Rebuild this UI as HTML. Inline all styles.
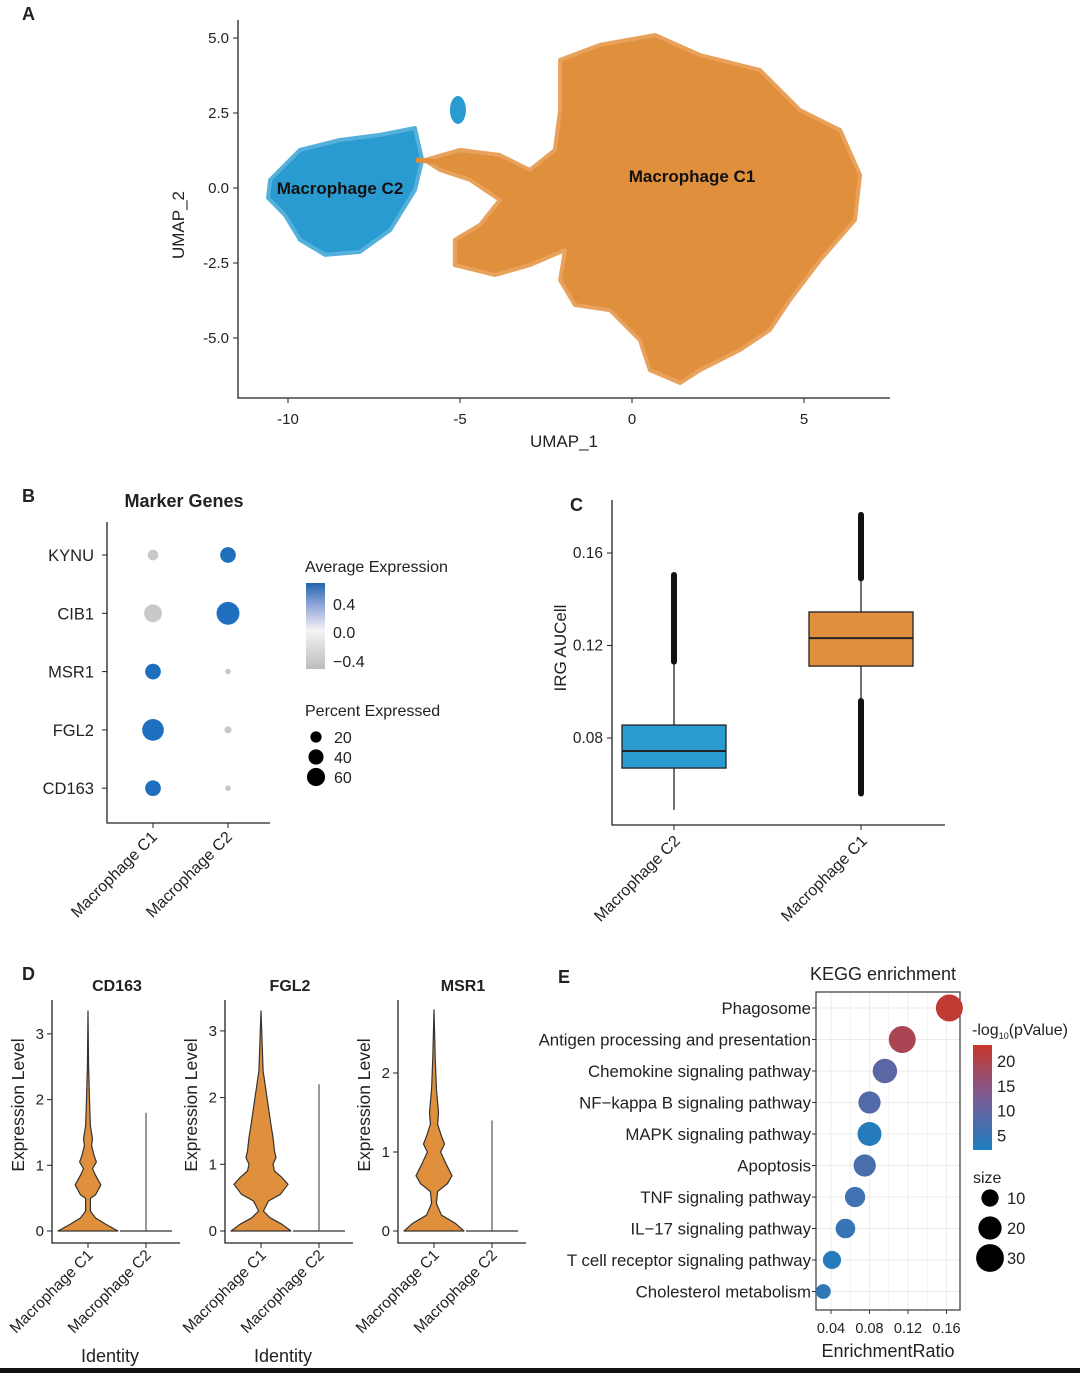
<!DOCTYPE html>
<html><head><meta charset="utf-8">
<style>
html,body{margin:0;padding:0;background:#fff;}
svg{display:block;font-family:"Liberation Sans",Arial,sans-serif;}
</style></head>
<body>
<svg id="fig" width="1080" height="1373" viewBox="0 0 1080 1373" xmlns="http://www.w3.org/2000/svg">
<defs>
<linearGradient id="avgGrad" x1="0" y1="0" x2="0" y2="1">
<stop offset="0" stop-color="#2166ac"/><stop offset="0.25" stop-color="#8fa3d8"/><stop offset="0.55" stop-color="#f4f4f4"/><stop offset="1" stop-color="#bdbdbd"/>
</linearGradient>
<linearGradient id="pvGrad" x1="0" y1="0" x2="0" y2="1">
<stop offset="0" stop-color="#c8372b"/><stop offset="0.5" stop-color="#7a5c96"/><stop offset="1" stop-color="#1c7ec0"/>
</linearGradient>
</defs>
<rect x="0" y="0" width="1080" height="1373" fill="#fff"/>
<rect x="0" y="1368" width="1080" height="5" fill="#111"/>
<g id="A"></g>
<g id="B"></g>
<g id="C"></g>
<g id="D"></g>
<g id="E"></g>
</svg>
<script>
// ---- Panel A data (UMAP cluster outlines, data units) ----
const umapXTicks = [-10, -5, 0, 5];
const umapYTicks = [5.0, 2.5, 0.0, -2.5, -5.0];
const c1OutlineX = [-2.09,-0.93,0.67,1.98,3.72,4.88,6.05,6.63,6.48,5.47,4.59,4.01,3.14,1.98,1.4,0.52,0.23,-0.64,-1.66,-2.09,-1.95,-2.97,-3.98,-5.15,-5.15,-4.42,-3.84,-4.71,-5.58,-6.02,-5.0,-3.84,-2.97,-2.24,-2.09];
const c1OutlineY = [4.27,4.77,5.1,4.43,3.93,2.6,1.93,0.43,-1.07,-2.4,-3.73,-4.73,-5.4,-6.07,-6.5,-6.07,-5.07,-4.07,-3.9,-3.07,-2.07,-2.57,-2.9,-2.57,-1.73,-1.23,-0.4,0.27,0.6,0.93,1.27,1.1,0.6,1.27,2.6];
const c2OutlineX = [-10.52,-9.65,-8.49,-7.33,-6.31,-6.1,-6.31,-7.03,-7.91,-8.92,-9.65,-10.09,-10.58];
const c2OutlineY = [0.27,1.27,1.6,1.77,2.0,0.93,-0.07,-1.4,-2.13,-2.23,-1.73,-0.9,-0.33];
const c2SmallX = [-5.06], c2SmallY = [2.6];

// ---- Panel B data ----
const genes = ["KYNU","CIB1","MSR1","FGL2","CD163"];
const groupsB = ["Macrophage C1","Macrophage C2"];
const pctC1 = [12, 40, 30, 62, 30];
const pctC2 = [30, 70, 2, 4, 2];
const avgC1 = [-0.5, -0.5, 0.6, 0.6, 0.6];
const avgC2 = [0.6, 0.6, -0.3, -0.3, -0.3];

// ---- Panel C data ----
const boxGroups = ["Macrophage C2","Macrophage C1"];
const boxQ1 = [0.067, 0.1111];
const boxMed = [0.0744, 0.1232];
const boxQ3 = [0.0856, 0.1345];
const boxLo = [0.0489, 0.096];
const boxHi = [0.113, 0.149];
const outHiMax = [0.1505, 0.1765];
const outLoMin = [null, 0.056];
const boxTicks = [0.08, 0.12, 0.16];

// ---- Panel D data ----
const violinGenes = ["CD163","FGL2","MSR1"];
const violinTicks = [[0,1,2,3],[0,1,2,3],[0,1,2]];
const vCD163V = [0,0.1,0.2,0.3,0.5,0.55,0.7,0.85,0.95,1.05,1.15,1.3,1.4,1.6,2,2.5,3.35];
const vCD163W = [1,0.6,0.25,0.08,0.08,0.25,0.43,0.25,0.15,0.28,0.2,0.12,0.15,0.08,0.05,0.02,0];
const vFGL2V = [0,0.1,0.2,0.3,0.45,0.55,0.7,0.8,0.9,1.0,1.1,1.2,1.4,1.6,2,2.4,3.3];
const vFGL2W = [1,0.7,0.3,0.08,0.25,0.65,0.9,0.7,0.45,0.4,0.5,0.45,0.4,0.33,0.2,0.07,0];
const vMSR1V = [0,0.1,0.2,0.35,0.5,0.6,0.7,0.85,1.0,1.1,1.2,1.35,1.5,1.8,2.2,2.8];
const vMSR1W = [1,0.7,0.25,0.08,0.12,0.45,0.6,0.4,0.22,0.35,0.25,0.12,0.15,0.08,0.04,0];
const c2LineMax = [1.8, 2.2, 1.4];

// ---- Panel E data ----
const pathways = ["Phagosome","Antigen processing and presentation","Chemokine signaling pathway","NF\u2212kappa B signaling pathway","MAPK signaling pathway","Apoptosis","TNF signaling pathway","IL\u221217 signaling pathway","T cell receptor signaling pathway","Cholesterol metabolism"];
const ratios = [0.163, 0.114, 0.096, 0.080, 0.080, 0.075, 0.065, 0.055, 0.041, 0.032];
const logP = [22, 19, 9, 8, 3, 7, 6, 5, 3, 4];
const sizes = [25, 25, 20, 16, 19, 16, 13, 12, 10, 6];
const eTicks = [0.04, 0.08, 0.12, 0.16];
const sizeLegend = [10, 20, 30];
const pvTicks = [20, 15, 10, 5];

const NS = "http://www.w3.org/2000/svg";
function mk(parent, tag, attrs, text){
  const e = document.createElementNS(NS, tag);
  for (const k in attrs) e.setAttribute(k, attrs[k]);
  if (text !== undefined) e.textContent = text;
  parent.appendChild(e);
  return e;
}
function label(parent, x, y, s, size, anchor, extra){
  return mk(parent, "text", Object.assign({x:x, y:y, "font-size":size, "text-anchor":anchor||"start", fill:"#222"}, extra||{}), s);
}

// ===== Panel A =====
(function(){
  const g = document.getElementById("A");
  const sx = v => 632 + v*34.4;
  const sy = v => 188 - v*30;
  const pl = label(g, 22, 20, "A", 18, "start", {"font-weight":"bold"});
  
  
  const pathFrom = (xs, ys) => xs.map((x,i)=>(i?"L":"M")+sx(x).toFixed(1)+","+sy(ys[i]).toFixed(1)).join(" ")+"Z";
  const o = mk(g, "path", {d: pathFrom(c1OutlineX, c1OutlineY), fill:"#e08f3c", stroke:"#e8a25c", "stroke-width":4, "stroke-linejoin":"round"});
  
  
  const b = mk(g, "path", {d: pathFrom(c2OutlineX, c2OutlineY), fill:"#2a9bd0", stroke:"#55b0dc", "stroke-width":4, "stroke-linejoin":"round"});
  
  
  c2SmallX.forEach((x,i)=>{
    const c = mk(g, "ellipse", {cx:sx(x), cy:sy(c2SmallY[i]), rx:8, ry:14, fill:"#2a9bd0"});
    
    
  });
  const br = mk(g, "path", {d:"M416,160 L440,162 L456,158", stroke:"#e08f3c", "stroke-width":5, fill:"none"});
  
  
  const ax = mk(g, "path", {d:"M238,20 V398 H890", stroke:"#222", "stroke-width":1.3, fill:"none"});
  
  
  umapXTicks.forEach(v=>{
    mk(g, "line", {x1:sx(v), x2:sx(v), y1:398, y2:403, stroke:"#222"});
    const t = label(g, sx(v), 424, String(v), 15, "middle");
    
    
  });
  umapYTicks.forEach(v=>{
    mk(g, "line", {x1:233, x2:238, y1:sy(v), y2:sy(v), stroke:"#222"});
    const t = label(g, 229, sy(v)+5, v.toFixed(1), 15, "end");
    
    
  });
  const xt = label(g, 564, 447, "UMAP_1", 17, "middle");
  
  
  const yt = label(g, 184, 225, "UMAP_2", 17, "middle", {transform:"rotate(-90 184 225)"});
  
  
  const l1 = label(g, 692, 182, "Macrophage C1", 17, "middle", {"font-weight":"bold", fill:"#111"});
  
  
  const l2 = label(g, 340, 194, "Macrophage C2", 17, "middle", {"font-weight":"bold", fill:"#111"});
  
  
})();

// ===== Panel B =====
(function(){
  const g = document.getElementById("B");
  const rowY = i => 555 + i*58.3;
  const colX = j => 153 + j*75;
  const rad = p => 1 + Math.sqrt(p)*1.25;
  const col = a => a > 0 ? "#1f6fbf" : "#c8c8c8";
  const pl = label(g, 22, 502, "B", 18, "start", {"font-weight":"bold"});
  
  
  const ti = label(g, 184, 507, "Marker Genes", 18, "middle", {"font-weight":"bold"});
  
  
  const ax = mk(g, "path", {d:"M107,522 V823 H270", stroke:"#222", "stroke-width":1.3, fill:"none"});
  
  
  genes.forEach((gn,i)=>{
    mk(g, "line", {x1:102, x2:107, y1:rowY(i), y2:rowY(i), stroke:"#222"});
    const t = label(g, 94, rowY(i)+6, gn, 16.5, "end");
    
    
    [[pctC1,avgC1],[pctC2,avgC2]].forEach((s,j)=>{
      const c = mk(g, "circle", {cx:colX(j), cy:rowY(i), r:rad(s[0][i]).toFixed(2), fill:col(s[1][i])});
      
      
    });
  });
  groupsB.forEach((gr,j)=>{
    mk(g, "line", {x1:colX(j), x2:colX(j), y1:823, y2:828, stroke:"#222"});
    const t = label(g, colX(j)+5, 838, gr, 16, "end", {transform:"rotate(-45 "+(colX(j)+5)+" 838)"});
    
    
  });
  const lt = label(g, 305, 572, "Average Expression", 16, "start");
  
  
  const cb = mk(g, "rect", {x:306, y:583, width:19, height:86, fill:"url(#avgGrad)"});
  
  
  [["0.4",610],["0.0",638],["\u22120.4",667]].forEach(a=>{
    const t = label(g, 333, a[1], a[0], 16, "start");
    
    
  });
  const st = label(g, 305, 716, "Percent Expressed", 16, "start");
  
  
  [20,40,60].forEach((p,k)=>{
    const c = mk(g, "circle", {cx:316, cy:737+k*20, r:rad(p).toFixed(2)*0.85, fill:"#000"});
    
    
    const t = label(g, 334, 743+k*20, String(p), 16, "start");
    
    
  });
})();

// ===== Panel C =====
(function(){
  const g = document.getElementById("C");
  const sy = v => 553 + (0.16 - v)*2312.5;
  const cx = j => 674 + j*187;
  const fills = ["#2a9bd0", "#e08f3c"];
  const pl = label(g, 570, 511, "C", 18, "start", {"font-weight":"bold"});
  
  
  const ax = mk(g, "path", {d:"M612,500 V825 H945", stroke:"#222", "stroke-width":1.3, fill:"none"});
  
  
  boxTicks.forEach(v=>{
    mk(g, "line", {x1:607, x2:612, y1:sy(v), y2:sy(v), stroke:"#222"});
    const t = label(g, 603, sy(v)+5, v.toFixed(2), 15.5, "end");
    
    
  });
  const yt = label(g, 566, 648, "IRG AUCell", 17, "middle", {transform:"rotate(-90 566 648)"});
  
  
  boxGroups.forEach((gr,j)=>{
    const x = cx(j);
    const w = mk(g, "line", {x1:x, x2:x, y1:sy(boxLo[j]), y2:sy(boxHi[j]), stroke:"#222", "stroke-width":1.3});
    
    
    const oh = mk(g, "line", {x1:x, x2:x, y1:sy(outHiMax[j]), y2:sy(boxHi[j]), stroke:"#111", "stroke-width":6, "stroke-linecap":"round"});
    
    
    if (outLoMin[j] !== null){
      const ol = mk(g, "line", {x1:x, x2:x, y1:sy(boxLo[j]), y2:sy(outLoMin[j]), stroke:"#111", "stroke-width":6, "stroke-linecap":"round"});
      
      
    }
    const r = mk(g, "rect", {x:x-52, y:sy(boxQ3[j]), width:104, height:sy(boxQ1[j])-sy(boxQ3[j]), fill:fills[j], stroke:"#222", "stroke-width":1.3});
    
    
    const m = mk(g, "line", {x1:x-52, x2:x+52, y1:sy(boxMed[j]), y2:sy(boxMed[j]), stroke:"#222", "stroke-width":2});
    
    
    mk(g, "line", {x1:x, x2:x, y1:825, y2:830, stroke:"#222"});
    const t = label(g, x+7, 842, gr, 16, "end", {transform:"rotate(-45 "+(x+7)+" 842)"});
    
    
  });
})();

// ===== Panel D =====
(function(){
  const g = document.getElementById("D");
  const axX = [52, 225, 398];
  const zeroY = 1231;
  const unit = [65.7, 66.7, 79];
  const vV = [vCD163V, vFGL2V, vMSR1V];
  const vW = [vCD163W, vFGL2W, vMSR1W];
  const pl = label(g, 22, 980, "D", 18, "start", {"font-weight":"bold"});
  
  
  violinGenes.forEach((gn,p)=>{
    const x0 = axX[p];
    const sy = v => zeroY - v*unit[p];
    const c1 = x0+36, c2 = x0+94;
    const ti = label(g, x0+65, 991, gn, 16, "middle", {"font-weight":"bold"});
    
    
    const ax = mk(g, "path", {d:"M"+x0+",1000 V1243 H"+(x0+128), stroke:"#222", "stroke-width":1.3, fill:"none"});
    
    
    violinTicks[p].forEach(v=>{
      mk(g, "line", {x1:x0-5, x2:x0, y1:sy(v), y2:sy(v), stroke:"#222"});
      const t = label(g, x0-8, sy(v)+5, String(v), 15, "end");
      
      
    });
    const yt = label(g, x0-28, 1105, "Expression Level", 17.5, "middle", {transform:"rotate(-90 "+(x0-28)+" 1105)"});
    
    
    const vs = vV[p], ws = vW[p], hw = 30;
    let d = "";
    vs.forEach((v,i)=>{ d += (i?"L":"M")+(c1+ws[i]*hw).toFixed(1)+","+sy(v).toFixed(1); });
    for (let i=vs.length-1;i>=0;i--) d += "L"+(c1-ws[i]*hw).toFixed(1)+","+sy(vs[i]).toFixed(1);
    const vp = mk(g, "path", {d:d+"Z", fill:"#e08f3c", stroke:"#333", "stroke-width":1.2, "stroke-linejoin":"round"});
    
    
    const h = mk(g, "line", {x1:c2-26, x2:c2+26, y1:sy(0), y2:sy(0), stroke:"#555", "stroke-width":1.5});
    
    
    const vl = mk(g, "line", {x1:c2, x2:c2, y1:sy(0), y2:sy(c2LineMax[p]), stroke:"#555", "stroke-width":1.2});
    
    
    [c1,c2].forEach((cx,j)=>{
      mk(g, "line", {x1:cx, x2:cx, y1:1243, y2:1248, stroke:"#222"});
      const t = label(g, cx+6, 1256, "Macrophage C"+(j+1), 15.5, "end", {transform:"rotate(-45 "+(cx+6)+" 1256)"});
      
      
    });
    if (p < 2){
      const it = label(g, x0+58, 1362, "Identity", 18, "middle");
      
      
    }
  });
})();

// ===== Panel E =====
(function(){
  const g = document.getElementById("E");
  const sx = v => 831 + (v-0.04)*962.5;
  const rowY = i => 1008 + i*31.5;
  const rad = s => 2.4*Math.sqrt(s) + 1.5;
  const lerp = (a,b,t)=>a+(b-a)*t;
  function pcol(v){
    const t = Math.max(0, Math.min(1, (v-2)/21));
    const lo=[28,126,192], mid=[122,92,150], hi=[200,55,43];
    let c;
    if (t<0.5){ const u=t/0.5; c=lo.map((x,i)=>lerp(x,mid[i],u)); }
    else { const u=(t-0.5)/0.5; c=mid.map((x,i)=>lerp(x,hi[i],u)); }
    return "rgb("+c.map(Math.round).join(",")+")";
  }
  const pl = label(g, 558, 983, "E", 18, "start", {"font-weight":"bold"});
  
  
  const ti = label(g, 883, 980, "KEGG enrichment", 18, "middle");
  
  
  eTicks.forEach(v=>{
    const gl = mk(g, "line", {x1:sx(v), x2:sx(v), y1:992, y2:1310, stroke:"#ebebeb"});
    
    
    const gm = mk(g, "line", {x1:sx(v+0.02), x2:sx(v+0.02), y1:992, y2:1310, stroke:"#f3f3f3"});
    
    
  });
  pathways.forEach((pw,i)=>{
    const gl = mk(g, "line", {x1:816, x2:960, y1:rowY(i), y2:rowY(i), stroke:"#ebebeb"});
    
    
  });
  const frame = mk(g, "rect", {x:816, y:992, width:144, height:318, fill:"none", stroke:"#444", "stroke-width":1.3});
  
  
  pathways.forEach((pw,i)=>{
    mk(g, "line", {x1:812, x2:816, y1:rowY(i), y2:rowY(i), stroke:"#333"});
    const t = label(g, 811, rowY(i)+6, pw, 16.8, "end");
    
    
    const c = mk(g, "circle", {cx:sx(ratios[i]), cy:rowY(i), r:rad(sizes[i]).toFixed(2), fill:pcol(logP[i])});
    
    
  });
  eTicks.forEach(v=>{
    mk(g, "line", {x1:sx(v), x2:sx(v), y1:1310, y2:1314, stroke:"#333"});
    const t = label(g, sx(v), 1333, v.toFixed(2), 14.5, "middle");
    
    
  });
  const xt = label(g, 888, 1357, "EnrichmentRatio", 18, "middle");
  
  
  const lt = mk(g, "text", {x:972, y:1035, "font-size":16, fill:"#222"});
  
  
  lt.innerHTML = '-log<tspan font-size="9" dy="4">10</tspan><tspan dy="-4">(pValue)</tspan>';
  const cb = mk(g, "rect", {x:973, y:1045, width:19, height:105, fill:"url(#pvGrad)"});
  
  
  pvTicks.forEach((v,k)=>{
    const t = label(g, 997, 1067+k*24.8, String(v), 16.5, "start");
    
    
  });
  const st = label(g, 973, 1183, "size", 16, "start");
  
  
  sizeLegend.forEach((s,k)=>{
    const cy = 1198 + k*30;
    const c = mk(g, "circle", {cx:990, cy:cy, r:(rad(s)*0.95).toFixed(2), fill:"#000"});
    
    
    const t = label(g, 1007, cy+6, String(s), 16.5, "start");
    
    
  });
})();
</script>
</body></html>
